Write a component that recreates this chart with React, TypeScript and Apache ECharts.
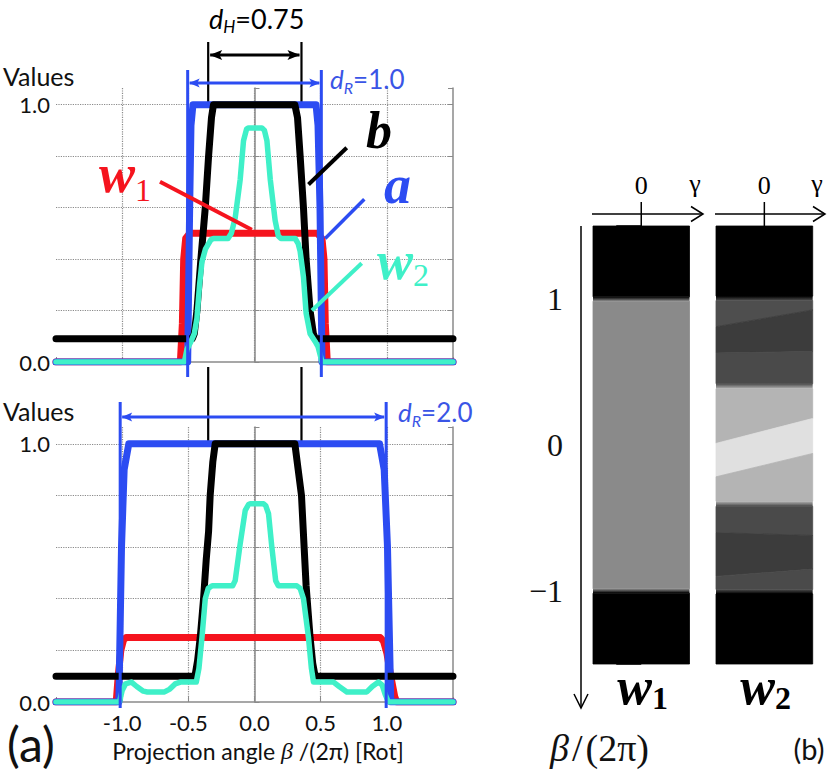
import React, { useEffect, useRef } from "react";
import * as echarts from "echarts";

// ---------------- data ----------------
const xTickLabels = [-1.0, -0.5, 0.0, 0.5, 1.0];
const yLabelValues = [0.0, 1.0];

// top panel: d_R = 1.0
const aTop = [[-1.5, 0], [-0.505, 0], [-0.49, 0.6], [-0.48, 0.92], [-0.465, 1.0], [0.465, 1.0], [0.48, 0.92], [0.495, 0.6], [0.51, 0], [1.5, 0]];
const bTop = [[-1.5, 0.09], [-0.47, 0.09], [-0.455, 0.11], [-0.435, 0.2], [-0.405, 0.4], [-0.372, 0.6], [-0.347, 0.8], [-0.325, 0.95], [-0.31, 1.0], [0.305, 1.0], [0.325, 0.95], [0.345, 0.8], [0.37, 0.6], [0.39, 0.4], [0.42, 0.2], [0.445, 0.11], [0.46, 0.09], [1.5, 0.09]];
const w1Top = [[-1.5, 0], [-0.56, 0], [-0.545, 0.15], [-0.535, 0.4], [-0.52, 0.48], [-0.49, 0.5], [0.475, 0.5], [0.51, 0.48], [0.525, 0.4], [0.535, 0.15], [0.55, 0], [1.5, 0]];
const w2Top = [[-1.5, 0], [-0.53, 0], [-0.51, 0.05], [-0.48, 0.08], [-0.455, 0.11], [-0.435, 0.17], [-0.415, 0.3], [-0.397, 0.39], [-0.37, 0.44], [-0.33, 0.475], [-0.31, 0.48], [-0.2, 0.48], [-0.175, 0.5], [-0.146, 0.56], [-0.108, 0.71], [-0.083, 0.86], [-0.06, 0.905], [-0.045, 0.91], [0.056, 0.91], [0.075, 0.9], [0.094, 0.86], [0.119, 0.71], [0.156, 0.55], [0.18, 0.49], [0.2, 0.48], [0.307, 0.48], [0.33, 0.46], [0.345, 0.43], [0.37, 0.33], [0.39, 0.19], [0.42, 0.11], [0.458, 0.08], [0.48, 0.06], [0.51, 0], [1.5, 0]];

// bottom panel: d_R = 2.0
const aBot = [[-1.5, 0], [-1.025, 0], [-1.005, 0.6], [-0.985, 0.9], [-0.95, 1.0], [0.945, 1.0], [0.98, 0.9], [1.005, 0.6], [1.03, 0], [1.5, 0]];
const bBot = [[-1.5, 0.1], [-0.45, 0.1], [-0.43, 0.16], [-0.41, 0.25], [-0.385, 0.4], [-0.365, 0.55], [-0.347, 0.66], [-0.335, 0.8], [-0.315, 0.93], [-0.297, 1.0], [0.305, 1.0], [0.33, 0.9], [0.355, 0.8], [0.375, 0.6], [0.39, 0.45], [0.42, 0.25], [0.44, 0.15], [0.458, 0.1], [1.5, 0.1]];
const w1Bot = [[-1.5, 0], [-1.045, 0], [-1.03, 0.1], [-1.01, 0.2], [-0.99, 0.24], [-0.97, 0.25], [0.95, 0.25], [0.975, 0.235], [1.0, 0.19], [1.03, 0.1], [1.06, 0.02], [1.075, 0], [1.5, 0]];
const w2Bot = [[-1.5, 0], [-1.02, 0], [-1.0, 0.045], [-0.975, 0.07], [-0.93, 0.077], [-0.89, 0.06], [-0.84, 0.042], [-0.81, 0.039], [-0.68, 0.039], [-0.64, 0.05], [-0.6, 0.07], [-0.56, 0.077], [-0.44, 0.077], [-0.42, 0.13], [-0.397, 0.25], [-0.372, 0.4], [-0.35, 0.44], [-0.32, 0.45], [-0.165, 0.45], [-0.146, 0.47], [-0.108, 0.613], [-0.07, 0.742], [-0.045, 0.765], [-0.032, 0.768], [0.068, 0.768], [0.085, 0.76], [0.106, 0.729], [0.131, 0.6], [0.16, 0.47], [0.18, 0.45], [0.32, 0.45], [0.345, 0.44], [0.37, 0.4], [0.408, 0.25], [0.43, 0.13], [0.446, 0.077], [0.597, 0.077], [0.64, 0.06], [0.698, 0.039], [0.849, 0.039], [0.89, 0.06], [0.937, 0.077], [0.965, 0.065], [0.987, 0.03], [1.012, 0], [1.5, 0]];

// annotation positions (data x)
const dHMarks = [-0.35, 0.355];
const dRTopMarks = [-0.505, 0.505];
const dRBotMarks = [-1.015, 0.995];

// panel (b): bands in beta, [top at gamma=-1, top at gamma=+1, bottom at gamma=-1, bottom at gamma=+1]
const w1Bands = [[1.5, 1.5, 1.015, 1.015], [1.015, 1.015, 0.985, 0.985], [0.985, 0.985, -0.985, -0.985], [-0.985, -0.985, -1.015, -1.015], [-1.015, -1.015, -1.5, -1.5]];
const w1BandColors = [["#000000", "#000000"], ["#000000", "#8a8a8a"], ["#8a8a8a", "#8a8a8a"], ["#8a8a8a", "#000000"], ["#000000", "#000000"]];
const w2Bands = [[1.5, 1.5, 1.02, 1.02], [1.02, 1.02, 0.99, 0.99], [0.99, 0.99, 0.81, 0.925], [0.81, 0.925, 0.63, 0.64], [0.63, 0.64, 0.42, 0.42], [0.42, 0.42, 0.385, 0.385], [0.385, 0.385, 0.011, 0.182], [0.011, 0.182, -0.218, -0.058], [-0.218, -0.058, -0.385, -0.385], [-0.385, -0.385, -0.42, -0.42], [-0.42, -0.42, -0.6, -0.62], [-0.6, -0.62, -0.9, -0.85], [-0.9, -0.85, -0.99, -0.99], [-0.99, -0.99, -1.02, -1.02], [-1.02, -1.02, -1.5, -1.5]];
const w2BandColors = [["#000000", "#000000"], ["#000000", "#4e4e4e"], ["#4e4e4e", "#4e4e4e"], ["#3c3c3c", "#3c3c3c"], ["#4a4a4a", "#4a4a4a"], ["#4a4a4a", "#b4b4b4"], ["#b4b4b4", "#b4b4b4"], ["#e0e0e0", "#e0e0e0"], ["#b4b4b4", "#b4b4b4"], ["#b4b4b4", "#4a4a4a"], ["#4a4a4a", "#4a4a4a"], ["#3c3c3c", "#3c3c3c"], ["#4a4a4a", "#4a4a4a"], ["#4a4a4a", "#000000"], ["#000000", "#000000"]];
const betaLabels: Record<string, string> = { "1": "1", "0": "0", "-1": "\u22121" };

// ---------------- styles ----------------
const C_A = "#2c4cf2";
const C_B = "#000000";
const C_W1 = "#f5141e";
const C_W2 = "#3ff0c8";
const C_DR = "#3a55e6";
const GRID_C = "#8a8a8a";
const SANS = "Lato";
const SERIF = "Liberation Serif";
const Y_MAX = 1.065;

function lineSeries(name: string, data: number[][], idx: number, color: string, width: number, z: number) {
  return {
    type: "line", name, data, xAxisIndex: idx, yAxisIndex: idx === 0 ? 0 : 2,
    showSymbol: false, symbol: "none", smooth: false, clip: true, z,
    lineStyle: { color, width, cap: "round", join: "round" },
  };
}

function xAxis(gridIndex: number, showLabels: boolean) {
  return {
    type: "value", gridIndex, min: -1.5, max: 1.5, interval: 0.5,
    axisLine: { show: true, onZero: false, lineStyle: { color: GRID_C, width: 1.5 } },
    axisTick: { show: true, inside: true, length: 5, lineStyle: { color: GRID_C } },
    axisLabel: {
      show: showLabels, margin: 9, fontFamily: SANS, fontSize: 22, color: "#111",
      formatter: (v: number) => (xTickLabels.some((t) => Math.abs(t - v) < 1e-9) ? v.toFixed(1) : ""),
    },
    splitLine: { show: true, showMinLine: false, showMaxLine: false, lineStyle: { type: "dotted", color: GRID_C, width: 1.2 } },
  };
}

function yAxisLeft(gridIndex: number) {
  return {
    type: "value", gridIndex, min: 0, max: Y_MAX, interval: 0.2, position: "left",
    axisLine: { show: true, lineStyle: { color: GRID_C, width: 1.5 } },
    axisTick: { show: true, inside: true, length: 5, lineStyle: { color: GRID_C } },
    axisLabel: {
      margin: 6, fontFamily: SANS, fontSize: 22, color: "#111",
      formatter: (v: number) => (yLabelValues.some((t) => Math.abs(t - v) < 1e-9) ? v.toFixed(1) : ""),
    },
    splitLine: { show: true, showMinLine: false, showMaxLine: false, lineStyle: { type: "dotted", color: GRID_C, width: 1.2 } },
  };
}

function yAxisRight(gridIndex: number) {
  return {
    type: "value", gridIndex, min: 0, max: Y_MAX, interval: 0.2, position: "right",
    axisLine: { show: true, lineStyle: { color: GRID_C, width: 1.5 } },
    axisTick: { show: true, inside: true, length: 5, lineStyle: { color: GRID_C } },
    axisLabel: { show: false }, splitLine: { show: false },
  };
}

function bandSeries(idx: number, bands: number[][], colors: string[][]) {
  return {
    type: "custom", xAxisIndex: idx, yAxisIndex: idx === 2 ? 4 : 5, data: bands, z: 2,
    renderItem: (params: any, api: any) => {
      const tl = api.coord([-1, api.value(0)]);
      const tr = api.coord([1, api.value(1)]);
      const bl = api.coord([-1, api.value(2)]);
      const br = api.coord([1, api.value(3)]);
      const c = colors[params.dataIndex];
      const solid = c[0] === c[1];
      const fill = solid ? c[0] : new echarts.graphic.LinearGradient(0, 0, 0, 1, [{ offset: 0, color: c[0] }, { offset: 1, color: c[1] }]);
      return {
        type: "polygon",
        shape: { points: [tl, tr, br, bl] },
        style: { fill, stroke: solid ? c[0] : null, lineWidth: solid ? 0.8 : 0 },
      };
    },
  };
}

let measureCtx: CanvasRenderingContext2D | null = null;
function measure(t: string, font: string) {
  if (!measureCtx) measureCtx = document.createElement("canvas").getContext("2d");
  measureCtx!.font = font;
  return measureCtx!.measureText(t).width;
}

type Part = { t: string; size: number; family: string; style?: string; weight?: string; dy?: number; gap?: number; color: string };
function textRun(x: number, y: number, parts: Part[], z = 120) {
  const out: any[] = [];
  let cx = x;
  for (const p of parts) {
    const style = p.style || "normal";
    const weight = p.weight || "normal";
    out.push({
      type: "text", x: cx, y: y + (p.dy || 0), z,
      style: {
        text: p.t, fontSize: p.size, fontFamily: p.family, fontStyle: style, fontWeight: weight, fill: p.color,
        align: "left", verticalAlign: "middle", textAlign: "left", textVerticalAlign: "middle",
      },
    });
    cx += measure(p.t, `${style} ${weight} ${p.size}px "${p.family}"`) + (p.gap || 0);
  }
  return out;
}

function txt(x: number, y: number, t: string, size: number, family: string, color: string, extra: any = {}) {
  return {
    type: "text", x, y, z: 120,
    style: {
      text: t, fontSize: size, fontFamily: family, fill: color,
      align: extra.align || "center", verticalAlign: "middle", textAlign: extra.align || "center", textVerticalAlign: "middle",
      fontStyle: extra.fontStyle || "normal", fontWeight: extra.fontWeight || "normal", rich: extra.rich,
    },
  };
}

function ln(x1: number, y1: number, x2: number, y2: number, color: string, width: number, z = 110) {
  return { type: "line", z, shape: { x1, y1, x2, y2 }, style: { stroke: color, lineWidth: width, lineCap: "butt" } };
}

function doubleArrow(xL: number, xR: number, y: number, color: string, width: number, head: number, half: number) {
  return [
    ln(xL + 2, y, xR - 2, y, color, width),
    { type: "polygon", z: 111, shape: { points: [[xL + 1.5, y], [xL + head, y - half], [xL + head * 0.8, y], [xL + head, y + half]] }, style: { fill: color } },
    { type: "polygon", z: 111, shape: { points: [[xR - 1.5, y], [xR - head, y - half], [xR - head * 0.8, y], [xR - head, y + half]] }, style: { fill: color } },
  ];
}

function buildGraphics(chart: any) {
  const p0 = (x: number, y: number) => chart.convertToPixel({ xAxisIndex: 0, yAxisIndex: 0 }, [x, y]);
  const p1 = (x: number, y: number) => chart.convertToPixel({ xAxisIndex: 1, yAxisIndex: 2 }, [x, y]);
  const pw1 = (g: number, b: number) => chart.convertToPixel({ xAxisIndex: 2, yAxisIndex: 4 }, [g, b]);
  const pw2 = (g: number, b: number) => chart.convertToPixel({ xAxisIndex: 3, yAxisIndex: 5 }, [g, b]);
  const g: any[] = [];

  // d_H annotation (black)
  const hL = p0(dHMarks[0], 1)[0];
  const hR = p0(dHMarks[1], 1)[0];
  const topOne = p0(0, 1)[1];
  const topZero = p0(0, 0)[1];
  const hBottom = p1(0, 1)[1];
  [hL, hR].forEach((hx) => {
    g.push(ln(hx, 42, hx, topOne, C_B, 2.2, 1));
    g.push(ln(hx, topZero + 5, hx, hBottom, C_B, 2.2, 1));
  });
  g.push(...doubleArrow(hL, hR, 55, C_B, 3, 14, 5));
  g.push(...textRun(209, 18, [
    { t: "d", size: 27, family: SANS, style: "italic", color: C_B },
    { t: "H", size: 17, family: SANS, style: "italic", color: C_B, dy: 8 },
    { t: "=0.75", size: 27, family: SANS, color: C_B },
  ]));

  // d_R = 1.0 (top, blue)
  const rL = p0(dRTopMarks[0], 0)[0];
  const rR = p0(dRTopMarks[1], 0)[0];
  g.push(ln(rL, 70, rL, 377, C_A, 3));
  g.push(ln(rR, 70, rR, 377, C_A, 3));
  g.push(...doubleArrow(rL, rR, 83, C_A, 3, 12, 4.5));
  g.push(...textRun(330, 79, [
    { t: "d", size: 26, family: SANS, style: "italic", color: C_DR },
    { t: "R", size: 16, family: SANS, style: "italic", color: C_DR, dy: 8 },
    { t: "=1.0", size: 26, family: SANS, color: C_DR },
  ]));

  // d_R = 2.0 (bottom, blue)
  const sL = p1(dRBotMarks[0], 0)[0];
  const sR = p1(dRBotMarks[1], 0)[0];
  g.push(ln(sL, 402, sL, 708, C_A, 3));
  g.push(ln(sR, 402, sR, 708, C_A, 3));
  g.push(...doubleArrow(sL, sR, 417, C_A, 3, 12, 4.5));
  g.push(...textRun(398, 412, [
    { t: "d", size: 26, family: SANS, style: "italic", color: C_DR },
    { t: "R", size: 16, family: SANS, style: "italic", color: C_DR, dy: 8 },
    { t: "=2.0", size: 26, family: SANS, color: C_DR },
  ]));

  // curve labels with leader lines
  const redEnd = p0(-0.02, 0.514);
  g.push(ln(160, 181.7, redEnd[0], redEnd[1], C_W1, 4));
  const bEnd = p0(0.408, 0.69);
  g.push(ln(346.7, 147.7, bEnd[0], bEnd[1], C_B, 4));
  const aEnd = p0(0.534, 0.48);
  g.push(ln(364.3, 199.3, aEnd[0], aEnd[1], C_A, 3.5));
  const w2End = p0(0.434, 0.2);
  g.push(ln(361.7, 263.3, w2End[0], w2End[1], C_W2, 4));

  g.push(...textRun(99, 174, [
    { t: "w", size: 54, family: SERIF, style: "italic", weight: "bold", color: C_W1 },
    { t: "1", size: 32, family: SERIF, color: C_W1, dy: 16 },
  ]));
  g.push(...textRun(366, 130, [{ t: "b", size: 52, family: SERIF, style: "italic", weight: "bold", color: C_B }]));
  g.push(...textRun(384, 185, [{ t: "a", size: 54, family: SERIF, style: "italic", weight: "bold", color: C_A }]));
  g.push(...textRun(377, 261, [
    { t: "w", size: 54, family: SERIF, style: "italic", weight: "bold", color: C_W2 },
    { t: "2", size: 32, family: SERIF, color: C_W2, dy: 14 },
  ]));

  // axis titles / panel labels
  g.push(txt(3, 76, "Values", 25, SANS, "#111", { align: "left" }));
  g.push(txt(3, 411, "Values", 25, SANS, "#111", { align: "left" }));
  g.push(txt(258, 751, "{n|Projection angle }{b|\u03B2}{n| /(2\u03C0) [Rot]}", 23, SANS, "#111", {
    rich: { n: { fontFamily: SANS, fontSize: 23, color: "#111" }, b: { fontFamily: SERIF, fontStyle: "italic", fontSize: 24, color: "#111" } },
  }));
  g.push(txt(7, 743, "(a)", 48, SANS, "#111", { align: "left" }));

  // panel (b) axes
  const topB = pw1(0, 1.5)[1];
  const botB = pw1(0, -1.5)[1];
  const leftW1 = pw1(-1, 0)[0];
  const axX = leftW1 - 12;
  g.push(ln(axX, topB, axX, 708, "#000", 1.5));
  g.push({ type: "polyline", z: 110, shape: { points: [[axX - 7, 694], [axX, 708], [axX + 7, 694]] }, style: { stroke: "#000", lineWidth: 1.5, fill: null } });
  [[pw1, 703], [pw2, 825]].forEach(([pf, xEnd]: any) => {
    const left = pf(-1, 0)[0];
    const c0 = pf(0, 0)[0];
    const yA = topB - 12;
    g.push(ln(left - 1, yA, xEnd, yA, "#000", 1.5));
    g.push({ type: "polyline", z: 110, shape: { points: [[xEnd - 12, yA - 7.5], [xEnd, yA], [xEnd - 12, yA + 7.5]] }, style: { stroke: "#000", lineWidth: 1.5, fill: null } });
    g.push(ln(c0, topB - 24, c0, topB, "#000", 1.5));
    g.push(txt(c0, topB - 41, "0", 26, SERIF, "#000"));
    g.push(txt(xEnd - 8, topB - 43, "\u03B3", 26, SERIF, "#000"));
  });
  const c1 = pw1(0, 0)[0];
  const c2 = pw2(0, 0)[0];
  g.push(...textRun(c1 - 24, botB + 22, [
    { t: "w", size: 52, family: SERIF, style: "italic", weight: "bold", color: "#000" },
    { t: "1", size: 32, family: SERIF, weight: "bold", color: "#000", dy: 12 },
  ]));
  g.push(...textRun(c2 - 24, botB + 22, [
    { t: "w", size: 52, family: SERIF, style: "italic", weight: "bold", color: "#000" },
    { t: "2", size: 32, family: SERIF, weight: "bold", color: "#000", dy: 12 },
  ]));
  g.push(...textRun(550, 748, [
    { t: "\u03B2", size: 38, family: SERIF, style: "italic", color: "#111", gap: 3 },
    { t: "/", size: 38, family: SERIF, color: "#111", gap: 3 },
    { t: "(2\u03C0)", size: 38, family: SERIF, color: "#111" },
  ]));
  g.push(txt(809, 748, "(b)", 29, SANS, "#111"));
  return g;
}

const option: any = {
  animation: false,
  backgroundColor: "#ffffff",
  textStyle: { fontFamily: SANS },
  grid: [
    { left: 56, top: 88, width: 397, height: 274 },
    { left: 56, top: 427, width: 397, height: 275 },
    { left: 593, top: 226, width: 96.5, height: 438 },
    { left: 716, top: 226, width: 96.7, height: 438 },
  ],
  xAxis: [
    xAxis(0, false),
    xAxis(1, true),
    { type: "value", gridIndex: 2, min: -1, max: 1, show: false },
    { type: "value", gridIndex: 3, min: -1, max: 1, show: false },
  ],
  yAxis: [
    yAxisLeft(0), yAxisRight(0),
    yAxisLeft(1), yAxisRight(1),
    {
      type: "value", gridIndex: 2, min: -1.5, max: 1.5, interval: 0.5, position: "left",
      axisLine: { show: false },
      axisTick: { show: true, length: 25, lineStyle: { color: "#000", width: 1.5 } },
      axisLabel: {
        margin: 30, fontFamily: SERIF, fontSize: 32, color: "#111",
        formatter: (v: number) => betaLabels[String(Math.round(v * 100) / 100)] || "",
      },
      splitLine: { show: false },
    },
    { type: "value", gridIndex: 3, min: -1.5, max: 1.5, show: false },
  ],
  series: [
    lineSeries("w1", w1Top, 0, C_W1, 7, 3),
    lineSeries("a", aTop, 0, C_A, 7, 4),
    lineSeries("b", bTop, 0, C_B, 7, 5),
    lineSeries("w2", w2Top, 0, C_W2, 5.5, 6),
    lineSeries("w1", w1Bot, 1, C_W1, 7, 3),
    lineSeries("a", aBot, 1, C_A, 7, 4),
    lineSeries("b", bBot, 1, C_B, 7, 5),
    lineSeries("w2", w2Bot, 1, C_W2, 5.5, 6),
    bandSeries(2, w1Bands, w1BandColors),
    bandSeries(3, w2Bands, w2BandColors),
  ],
};

export default function App() {
  const ref = useRef<HTMLDivElement>(null);
  useEffect(() => {
    const chart = echarts.init(ref.current!, null, { renderer: "svg" });
    chart.setOption(option);
    chart.setOption({ graphic: { elements: buildGraphics(chart) } });
    return () => chart.dispose();
  }, []);
  return <div ref={ref} style={{ position: "fixed", left: 0, top: 0, width: 830, height: 770, background: "#fff" }} />;
}
